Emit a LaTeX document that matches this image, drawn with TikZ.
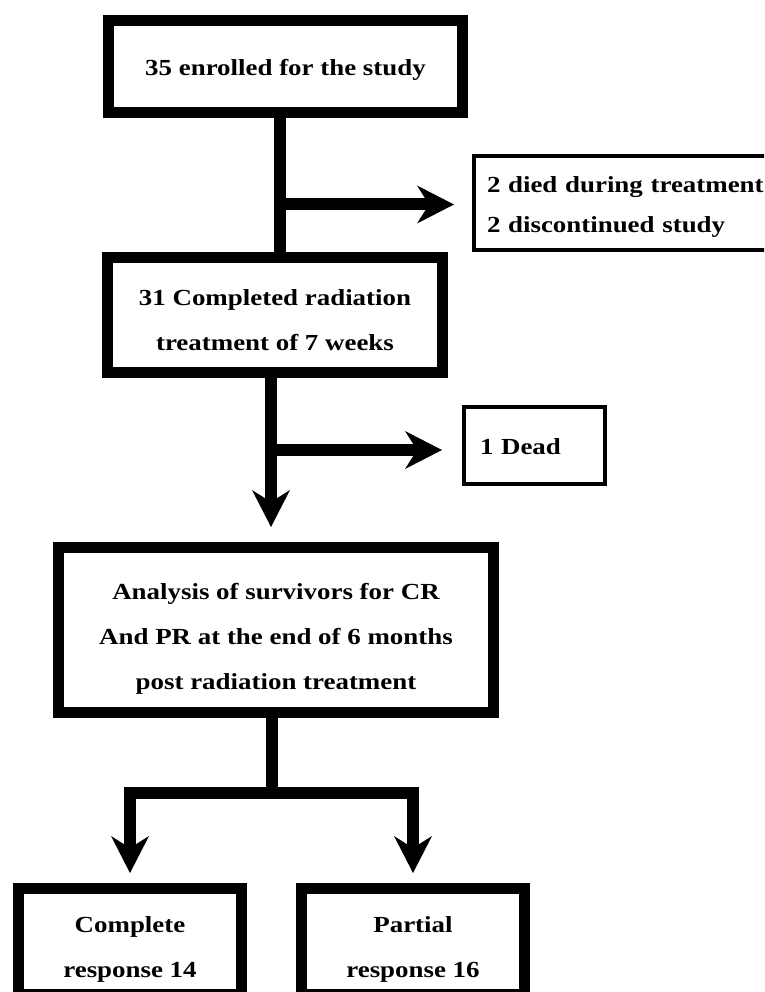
\documentclass[tikz,border=0pt]{standalone}
\usepackage{fontspec}
\setmainfont{Liberation Serif}[FakeStretch=1.17]
\usetikzlibrary{arrows.meta,positioning}

\begin{document}
\begin{tikzpicture}[
  x=1pt,y=-1pt,
  box/.style={draw,line width=11pt,inner sep=0pt,align=center,text depth=0pt,font=\bfseries\fontsize{23}{45}\selectfont},
  sidebox/.style={draw,line width=4pt,outer sep=0pt,inner ysep=0pt,align=left,font=\bfseries\fontsize{23}{40}\selectfont},
  link/.style={line width=12pt},
  arr/.style={line width=12pt,-{Stealth[length=37pt,width=38pt,inset=12pt,line width=0pt]}}
]
\useasboundingbox (0,0) rectangle (764,992);
\clip (0,0) rectangle (764,992);
\node[box,minimum width=354pt,minimum height=92pt,text height=19pt] (enrolled) at (285.5,66.5) {35 enrolled for the study};
\node[box,minimum width=335pt,minimum height=115pt,text height=71pt] (completed) at (275,315) {31 Completed radiation\\treatment of 7 weeks};
\node[box,minimum width=435pt,minimum height=165pt,text height=119pt] (analysis) at (276,630) {Analysis of survivors for CR\\And PR at the end of 6 months\\post radiation treatment};
\node[box,minimum width=223pt,minimum height=106pt,text height=72pt] (complete) at (130,941.5) {Complete\\response 14};
\node[box,minimum width=223pt,minimum height=106pt,text height=72pt] (partial) at (413,941.5) {Partial\\response 16};
\node[sidebox,anchor=west,inner xsep=13pt,text width=290pt,minimum height=94pt,text height=16pt,text depth=37pt] (excluded) at (474,203) {2 died during treatment\\2 discontinued study};
\node[sidebox,anchor=west,inner xsep=16pt,text width=109pt,minimum height=77pt,text height=18pt,text depth=0pt] (dead) at (464,445.5) {1 Dead};
\coordinate (spineA) at (280,204.5);
\coordinate (spineB) at (271,450);
\coordinate (fork) at (272,792.5);
\draw[link] (enrolled.south -| spineA) -- (completed.north -| spineA);
\draw[arr,shorten >=20pt] (spineA) -- (spineA -| excluded.west);
\draw[arr,shorten >=15pt] (completed.south -| spineB) -- (analysis.north -| spineB);
\draw[arr,shorten >=22pt] (spineB) -- (spineB -| dead.west);
\draw[link] (analysis.south -| fork) -- (fork);
\draw[arr,shorten >=10pt] (fork) -| (complete.north);
\draw[arr,shorten >=10pt] (fork) -| (partial.north);
\end{tikzpicture}
\end{document}
